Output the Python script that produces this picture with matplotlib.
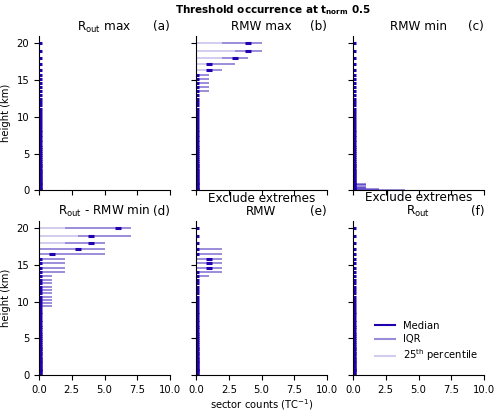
import matplotlib.pyplot as plt
from matplotlib.lines import Line2D

plt.rcParams['font.size'] = 7.2

# model levels (km), top to bottom
heights = [20.0, 18.9, 17.95, 17.15, 16.42, 15.75, 15.18, 14.6, 14.06, 13.5,
           12.95, 12.47, 12.02, 11.56, 11.1, 10.65, 10.2, 9.8, 9.4, 9.0,
           8.62, 8.25, 7.9, 7.55, 7.2, 6.87, 6.55, 6.23, 5.92, 5.62,
           5.33, 5.05, 4.77, 4.5, 4.24, 3.98, 3.73, 3.49, 3.25, 3.02,
           2.8, 2.58, 2.37, 2.16, 1.96, 1.76, 1.57, 1.38, 1.2, 1.02,
           0.85, 0.68, 0.52, 0.36, 0.2, 0.05]

# (a) Rout max
a_med = [0] * 56
a_p25 = [0] * 56
a_p75 = [0] * 56

# (b) RMW max
b_med = [4, 4, 3, 1, 1] + [0] * 51
b_p25 = [2, 3, 2, 1, 1] + [0] * 51
b_p75 = [5, 5, 4, 3, 2, 1, 1, 1, 1, 1] + [0] * 46

# (c) RMW min
c_med = [0] * 56
c_p25 = [0] * 56
c_p75 = [0] * 50 + [1, 1, 1, 1, 2, 4]

# (d) Rout - RMW min
d_med = [6, 4, 4, 3, 1] + [0] * 51
d_p25 = [2, 3, 2, 0, 0] + [0] * 51
d_p75 = [7, 7, 5, 5, 5, 2, 2, 2, 2, 1, 1, 1, 1, 1, 1, 1, 1, 1, 1] + [0] * 37

# (e) exclude extremes RMW
e_med = [0, 0, 0, 0, 0, 1, 1, 1, 0, 0] + [0] * 46
e_p25 = [0] * 56
e_p75 = [0, 0, 0, 2, 2, 2, 2, 2, 2, 1] + [0] * 46

# (f) exclude extremes Rout
f_med = [0] * 56
f_p25 = [0] * 56
f_p75 = [0] * 56

panels = [
    ('R$_{\\rm out}$ max', '(a)', a_med, a_p25, a_p75),
    ('RMW max', '(b)', b_med, b_p25, b_p75),
    ('RMW min', '(c)', c_med, c_p25, c_p75),
    ('R$_{\\rm out}$ - RMW min', '(d)', d_med, d_p25, d_p75),
    ('Exclude extremes\nRMW', '(e)', e_med, e_p25, e_p75),
    ('Exclude extremes\nR$_{\\rm out}$', '(f)', f_med, f_p25, f_p75),
]

col = '#2200b0'

fig = plt.figure(figsize=(5, 4.12), dpi=100)
for i, (title, tag, med, p25, p75) in enumerate(panels):
    r, c = divmod(i, 3)
    bottom = 0.538 if r == 0 else 0.0898
    ax = fig.add_axes([0.078 + c * 0.314, bottom, 0.262, 0.3745])
    # 25th percentile: 0 -> p25, IQR: p25 -> p75
    ax.hlines(heights, [0] * len(heights), p25, color=col, alpha=0.2, lw=1.4, capstyle='butt')
    ax.hlines(heights, p25, p75, color=col, alpha=0.45, lw=1.4, capstyle='butt')
    ax.hlines(heights, [m - 0.23 for m in med], [m + 0.23 for m in med],
              color=col, lw=2.2, capstyle='butt')
    ax.set_xlim(0, 10)
    ax.set_ylim(0, 21)
    ax.set_xticks([0, 2.5, 5, 7.5, 10])
    ax.set_yticks([0, 5, 10, 15, 20])
    ax.spines['top'].set_visible(False)
    ax.spines['right'].set_visible(False)
    ax.set_title(title, pad=4, linespacing=1.05)
    ax.set_title(tag, loc='right', pad=4)
    if r == 0:
        ax.set_xticklabels([])
    if c == 0:
        ax.set_ylabel('height (km)')
    else:
        ax.set_yticklabels([])
    if r == 1 and c == 1:
        ax.set_xlabel('sector counts (TC$^{-1}$)', labelpad=2)
    if r == 1 and c == 2:
        handles = [Line2D([], [], color=col, lw=1.5),
                   Line2D([], [], color=col, alpha=0.45, lw=1.5),
                   Line2D([], [], color=col, alpha=0.2, lw=1.5)]
        ax.legend(handles, ['Median', 'IQR', '25$^{\\rm th}$ percentile'],
                  frameon=False, loc='center left', bbox_to_anchor=(0.1, 0.214),
                  labelspacing=0.35)

fig.suptitle('Threshold occurrence at $\\mathbf{t_{norm}}$ 0.5', fontweight='bold',
             x=0.545, y=0.993, fontsize=7.5)
plt.savefig('out.png', dpi=100)
